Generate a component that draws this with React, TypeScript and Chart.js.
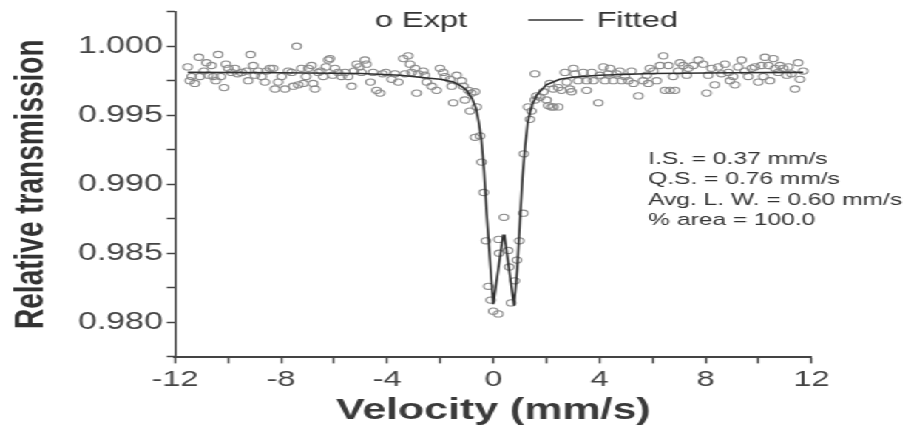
import React, { useEffect, useRef } from "react";
import { Chart, registerables } from "chart.js";

Chart.register(...registerables);

// Experimental points: velocity (mm/s)
const exptV: number[] = [
  -11.52, -11.44, -11.37, -11.25, -11.10, -11.06, -10.91, -10.81, -10.74, -10.62,
  -10.56, -10.46, -10.37, -10.27, -10.15, -10.08, -9.99, -9.87, -9.74, -9.64,
  -9.49, -9.30, -9.24, -9.15, -9.05, -8.99, -8.86, -8.73, -8.61, -8.55,
  -8.42, -8.30, -8.23, -8.11, -7.98, -7.85, -7.73, -7.60, -7.54, -7.41,
  -7.35, -7.23, -7.16, -7.06, -6.97, -6.85, -6.79, -6.72, -6.60, -6.50,
  -6.41, -6.31, -6.22, -6.16, -6.06, -5.97, -5.85, -5.72, -5.59, -5.47,
  -5.34, -5.25, -5.15, -5.05, -4.97, -4.84, -4.78, -4.63, -4.53, -4.40,
  -4.27, -4.17, -4.05, -3.83, -3.71, -3.58, -3.39, -3.33, -3.21, -3.14,
  -3.08, -2.95, -2.89, -2.83, -2.64, -2.58, -2.51, -2.32, -2.14, -2.01,
  -1.89, -1.82, -1.63, -1.57, -1.51, -1.38, -1.19, -1.13, -1.07, -0.94,
  -0.88, -0.82, -0.69, -0.69, -0.63, -0.50, -0.44, -0.36, -0.28, -0.19,
  -0.10, 0.00, 0.19, 0.20, 0.22, 0.40, 0.56, 0.60, 0.67, 0.81,
  0.89, 0.98, 1.13, 1.15, 1.31, 1.38, 1.44, 1.57, 1.57, 1.63,
  1.76, 1.89, 2.01, 2.07, 2.13, 2.20, 2.26, 2.26, 2.45, 2.45,
  2.57, 2.70, 2.77, 2.89, 2.95, 3.02, 3.08, 3.20, 3.39, 3.52,
  3.52, 3.71, 3.77, 3.96, 4.02, 4.15, 4.21, 4.33, 4.40, 4.52,
  4.65, 4.77, 4.84, 4.96, 5.09, 5.21, 5.28, 5.47, 5.65, 5.78,
  5.84, 5.90, 6.03, 6.16, 6.28, 6.41, 6.47, 6.60, 6.66, 6.78,
  6.85, 6.97, 7.04, 7.16, 7.29, 7.35, 7.54, 7.73, 7.91, 8.04,
  8.10, 8.23, 8.35, 8.48, 8.60, 8.73, 8.86, 8.92, 9.04, 9.11,
  9.23, 9.36, 9.48, 9.61, 9.74, 9.86, 9.99, 10.11, 10.18, 10.24,
  10.37, 10.43, 10.56, 10.62, 10.74, 10.81, 10.93, 11.06, 11.12, 11.24,
  11.37, 11.49, 11.56, 11.68,
];

// Experimental points: relative transmission
const exptT: number[] = [
  0.9985, 0.9975, 0.9978, 0.9973, 0.9992, 0.9978, 0.9982, 0.9988, 0.9979, 0.9986,
  0.9978, 0.9975, 0.9994, 0.9978, 0.9970, 0.9987, 0.9984, 0.9981, 0.9984, 0.9980,
  0.9981, 0.9982, 0.9975, 0.9994, 0.9986, 0.9979, 0.9982, 0.9978, 0.9974, 0.9982,
  0.9984, 0.9984, 0.9969, 0.9974, 0.9978, 0.9969, 0.9982, 0.9981, 0.9971, 1.0000,
  0.9972, 0.9984, 0.9973, 0.9978, 0.9984, 0.9986, 0.9973, 0.9969, 0.9981, 0.9982,
  0.9978, 0.9985, 0.9990, 0.9991, 0.9979, 0.9984, 0.9981, 0.9978, 0.9981, 0.9978,
  0.9971, 0.9982, 0.9987, 0.9985, 0.9981, 0.9990, 0.9987, 0.9974, 0.9981, 0.9968,
  0.9966, 0.9980, 0.9981, 0.9976, 0.9980, 0.9974, 0.9991, 0.9980, 0.9993, 0.9987,
  0.9981, 0.9984, 0.9966, 0.9980, 0.9982, 0.9979, 0.9974, 0.9971, 0.9968, 0.9984,
  0.9981, 0.9978, 0.9976, 0.9971, 0.9959, 0.9979, 0.9975, 0.9971, 0.9961, 0.9968,
  0.9953, 0.9966, 0.9967, 0.9934, 0.9956, 0.9935, 0.9916, 0.9894, 0.9859, 0.9826,
  0.9816, 0.9808, 0.9806, 0.9860, 0.9850, 0.9876, 0.9852, 0.9840, 0.9814, 0.9830,
  0.9845, 0.9859, 0.9879, 0.9922, 0.9956, 0.9947, 0.9953, 0.9961, 0.9980, 0.9964,
  0.9963, 0.9967, 0.9961, 0.9957, 0.9973, 0.9956, 0.9956, 0.9969, 0.9956, 0.9970,
  0.9968, 0.9981, 0.9974, 0.9969, 0.9967, 0.9984, 0.9980, 0.9975, 0.9981, 0.9975,
  0.9968, 0.9981, 0.9975, 0.9959, 0.9979, 0.9985, 0.9975, 0.9980, 0.9984, 0.9975,
  0.9980, 0.9982, 0.9975, 0.9978, 0.9975, 0.9982, 0.9973, 0.9964, 0.9975, 0.9979,
  0.9973, 0.9984, 0.9982, 0.9975, 0.9986, 0.9993, 0.9968, 0.9986, 0.9968, 0.9978,
  0.9968, 0.9982, 0.9988, 0.9986, 0.9979, 0.9984, 0.9986, 0.9990, 0.9987, 0.9966,
  0.9979, 0.9984, 0.9972, 0.9985, 0.9980, 0.9987, 0.9981, 0.9975, 0.9978, 0.9972,
  0.9985, 0.9990, 0.9982, 0.9978, 0.9984, 0.9985, 0.9974, 0.9986, 0.9978, 0.9992,
  0.9986, 0.9975, 0.9991, 0.9984, 0.9981, 0.9986, 0.9984, 0.9979, 0.9985, 0.9980,
  0.9969, 0.9988, 0.9976, 0.9982,
];

// Fitted curve
const fitV: number[] = [
  -11.52, -8, -5, -3.5, -2.5, -2.0, -1.5, -1.2, -1.0, -0.8, -0.65, -0.55, -0.45,
  -0.35, -0.25, -0.1, 0.0, 0.37, 0.42, 0.78, 0.9, 1.0, 1.1, 1.2, 1.3, 1.45, 1.65,
  2.0, 2.5, 3.0, 4.0, 6.0, 9.0, 11.68,
];
const fitT: number[] = [
  0.9981, 0.99808, 0.99802, 0.9979, 0.9977, 0.9976, 0.9974, 0.9971, 0.9968, 0.9962,
  0.9955, 0.9945, 0.9932, 0.9910, 0.9878, 0.9838, 0.9813, 0.9863, 0.9863, 0.9812,
  0.9838, 0.9872, 0.9905, 0.9928, 0.9945, 0.9957, 0.9965, 0.9972, 0.9976, 0.99775,
  0.9979, 0.99802, 0.99808, 0.9981,
];

const xTicksShown: number[] = [-12, -8, -4, 0, 4, 8, 12];
const legendExpt = "o Expt";
const legendFit = "Fitted";
const infoLines: string[] = [
  "I.S. = 0.37 mm/s",
  "Q.S. = 0.76 mm/s",
  "Avg. L. W. = 0.60 mm/s",
  "% area = 100.0",
];

const STRETCH = 914 / 618;
const FONT = '"Liberation Sans", Arial, sans-serif';

const textPlugin = {
  id: "extraTexts",
  afterDraw(chart: any) {
    const ctx = chart.ctx as CanvasRenderingContext2D;
    ctx.save();
    ctx.fillStyle = "#333";
    ctx.strokeStyle = "#333";
    ctx.textBaseline = "alphabetic";
    ctx.textAlign = "left";
    ctx.font = `22px ${FONT}`;
    ctx.fillText(legendExpt, 253.5, 26.5);
    ctx.lineWidth = 1.5;
    ctx.beginPath();
    ctx.moveTo(357.2, 20);
    ctx.lineTo(394.4, 20);
    ctx.stroke();
    ctx.fillText(legendFit, 403.4, 26.5);
    ctx.font = `16.6px ${FONT}`;
    const base = [163.5, 184, 204.5, 225];
    infoLines.forEach((t, i) => ctx.fillText(t, 438.3, base[i]));
    ctx.restore();
  },
};

export default function App() {
  const ref = useRef<HTMLCanvasElement | null>(null);

  useEffect(() => {
    if (!ref.current) return;
    const expt = exptV.map((v, i) => ({ x: v, y: exptT[i] }));
    const fit = fitV.map((v, i) => ({ x: v, y: fitT[i] }));
    const chart = new Chart(ref.current, {
      type: "scatter",
      data: {
        datasets: [
          {
            label: "Fitted",
            data: fit,
            showLine: true,
            borderColor: "#2e2e2e",
            borderWidth: 1.6,
            pointRadius: 0,
            tension: 0,
            fill: false,
          } as any,
          {
            label: "Expt",
            data: expt,
            pointRadius: 3.1,
            pointHoverRadius: 3.1,
            pointBorderWidth: 1.1,
            borderColor: "#8a8a8a",
            backgroundColor: "rgba(0,0,0,0)",
            pointBackgroundColor: "rgba(0,0,0,0)",
            pointBorderColor: "#8a8a8a",
          } as any,
        ],
      },
      options: {
        animation: false,
        responsive: true,
        maintainAspectRatio: false,
        layout: { padding: { top: 11.7, right: 69.2, bottom: 0, left: 0 } },
        plugins: {
          legend: { display: false },
          tooltip: { enabled: false },
        },
        scales: {
          x: {
            type: "linear",
            min: -12,
            max: 12,
            afterFit: (s: any) => {
              s.height = 71.3;
            },
            ticks: {
              stepSize: 2,
              autoSkip: false,
              maxRotation: 0,
              padding: 3,
              color: "#444",
              font: { family: FONT, size: 22 },
              callback: (v: any) => (xTicksShown.includes(Number(v)) ? String(v) : ""),
            },
            grid: {
              drawOnChartArea: false,
              drawTicks: true,
              tickLength: 6.7,
              tickColor: "#444",
              tickWidth: 1.4,
            },
            border: { display: true, color: "#444", width: 2 },
            title: {
              display: true,
              text: "Velocity (mm/s)",
              color: "#3a3a3a",
              font: { family: FONT, size: 29, weight: "bold" },
              padding: { top: 0, bottom: 0 },
            },
          },
          y: {
            type: "linear",
            min: 0.9775,
            max: 1.0025,
            afterFit: (s: any) => {
              s.width = 118.3;
              s.paddingTop = 0;
              s.paddingBottom = 0;
            },
            ticks: {
              stepSize: 0.0025,
              autoSkip: false,
              padding: 2.5,
              color: "#444",
              font: { family: FONT, size: 23, lineHeight: 1 },
              callback: (v: any) => {
                const k = Math.round(Number(v) * 10000);
                return k % 50 === 0 ? (k / 10000).toFixed(3) : "";
              },
            },
            grid: {
              drawOnChartArea: false,
              drawTicks: true,
              tickLength: 5.6,
              tickColor: "#444",
              tickWidth: 1.5,
            },
            border: { display: true, color: "#444", width: 1.6 },
            title: {
              display: true,
              text: "Relative transmission",
              color: "#333",
              font: { family: FONT, size: 28, weight: "bold" },
              padding: { top: 4, bottom: 0 },
            },
          },
        },
      },
      plugins: [textPlugin],
    } as any);
    return () => chart.destroy();
  }, []);

  return (
    <div
      style={{
        position: "absolute",
        left: 0,
        top: 0,
        width: 618,
        height: 428,
        transform: `scaleX(${STRETCH})`,
        transformOrigin: "0 0",
        background: "#fff",
      }}
    >
      <canvas ref={ref} />
    </div>
  );
}
